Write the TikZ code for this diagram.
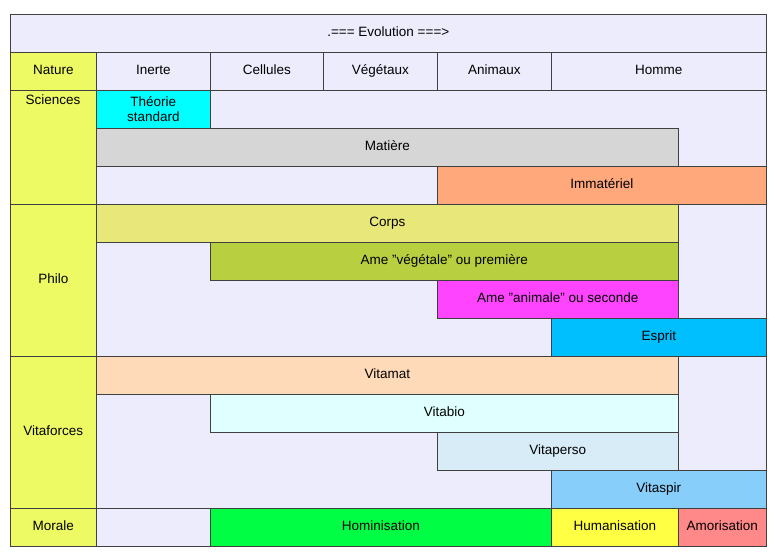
\documentclass[tikz,border=0pt]{standalone}
\usepackage{fontspec}
\setmainfont{Liberation Sans}
\definecolor{lav}{RGB}{236,236,252}
\definecolor{natc}{RGB}{238,250,100}
\definecolor{theo}{RGB}{0,255,255}
\definecolor{mat}{RGB}{214,214,214}
\definecolor{imm}{RGB}{255,168,124}
\definecolor{corps}{RGB}{232,232,122}
\definecolor{ameveg}{RGB}{184,208,64}
\definecolor{ameani}{RGB}{255,68,255}
\definecolor{esprit}{RGB}{0,191,255}
\definecolor{vmat}{RGB}{255,218,185}
\definecolor{vbio}{RGB}{224,255,255}
\definecolor{vper}{RGB}{216,236,248}
\definecolor{vspir}{RGB}{135,206,250}
\definecolor{homi}{RGB}{0,255,68}
\definecolor{huma}{RGB}{255,255,68}
\definecolor{amor}{RGB}{255,136,136}
\tikzset{cellbox/.style={draw=black!75,line width=0.6pt,inner sep=0pt,font=\fontsize{13.5}{14.5}\selectfont,align=center,text height=10pt,text depth=3pt}}
\newcommand{\cellat}[6]{\node[cellbox,fill=#5,minimum width={(#3-#1)*1pt},minimum height={(#4-#2)*1pt},anchor=north west] (c#1x#2) at (#1,#2) {#6};}
\begin{document}
\begin{tikzpicture}[x=1pt,y=-1pt]
\useasboundingbox[fill=white] (0,0) rectangle (778,559);
\cellat{10}{14}{766}{52}{lav}{.=== Evolution ===>}
\cellat{10}{52}{96}{90}{natc}{Nature}
\cellat{96}{52}{210}{90}{lav}{Inerte}
\cellat{210}{52}{323}{90}{lav}{Cellules}
\cellat{323}{52}{437}{90}{lav}{Végétaux}
\cellat{437}{52}{551}{90}{lav}{Animaux}
\cellat{551}{52}{766}{90}{lav}{Homme}
% left labels
\cellat{10}{90}{96}{204}{natc}{}
\node[font=\fontsize{13.5}{14.5}\selectfont,anchor=north] (lsci) at (53,91) {Sciences};
\cellat{10}{204}{96}{356}{natc}{Philo}
\cellat{10}{356}{96}{508}{natc}{Vitaforces}
\cellat{10}{508}{96}{546}{natc}{Morale}
% blocks
\cellat{96}{90}{766}{204}{lav}{}
\cellat{96}{204}{766}{356}{lav}{}
\cellat{96}{356}{766}{508}{lav}{}
\node[cellbox,fill=theo,text height=,text depth=,minimum width=114pt,minimum height=38pt,anchor=north west,font=\fontsize{13.5}{15}\selectfont] (ctheo) at (96,90) {Théorie\\standard};
\cellat{96}{128}{678}{166}{mat}{Matière}
\cellat{437}{166}{766}{204}{imm}{Immatériel}
\cellat{96}{204}{678}{242}{corps}{Corps}
\cellat{210}{242}{678}{280}{ameveg}{Ame "végétale" ou première}
\cellat{437}{280}{678}{318}{ameani}{Ame "animale" ou seconde}
\cellat{551}{318}{766}{356}{esprit}{Esprit}
\cellat{96}{356}{678}{394}{vmat}{Vitamat}
\cellat{210}{394}{678}{432}{vbio}{Vitabio}
\cellat{437}{432}{678}{470}{vper}{Vitaperso}
\cellat{551}{470}{766}{508}{vspir}{Vitaspir}
\cellat{96}{508}{210}{546}{lav}{}
\cellat{210}{508}{551}{546}{homi}{Hominisation}
\cellat{551}{508}{678}{546}{huma}{Humanisation}
\cellat{678}{508}{766}{546}{amor}{Amorisation}
\end{tikzpicture}
\end{document}
